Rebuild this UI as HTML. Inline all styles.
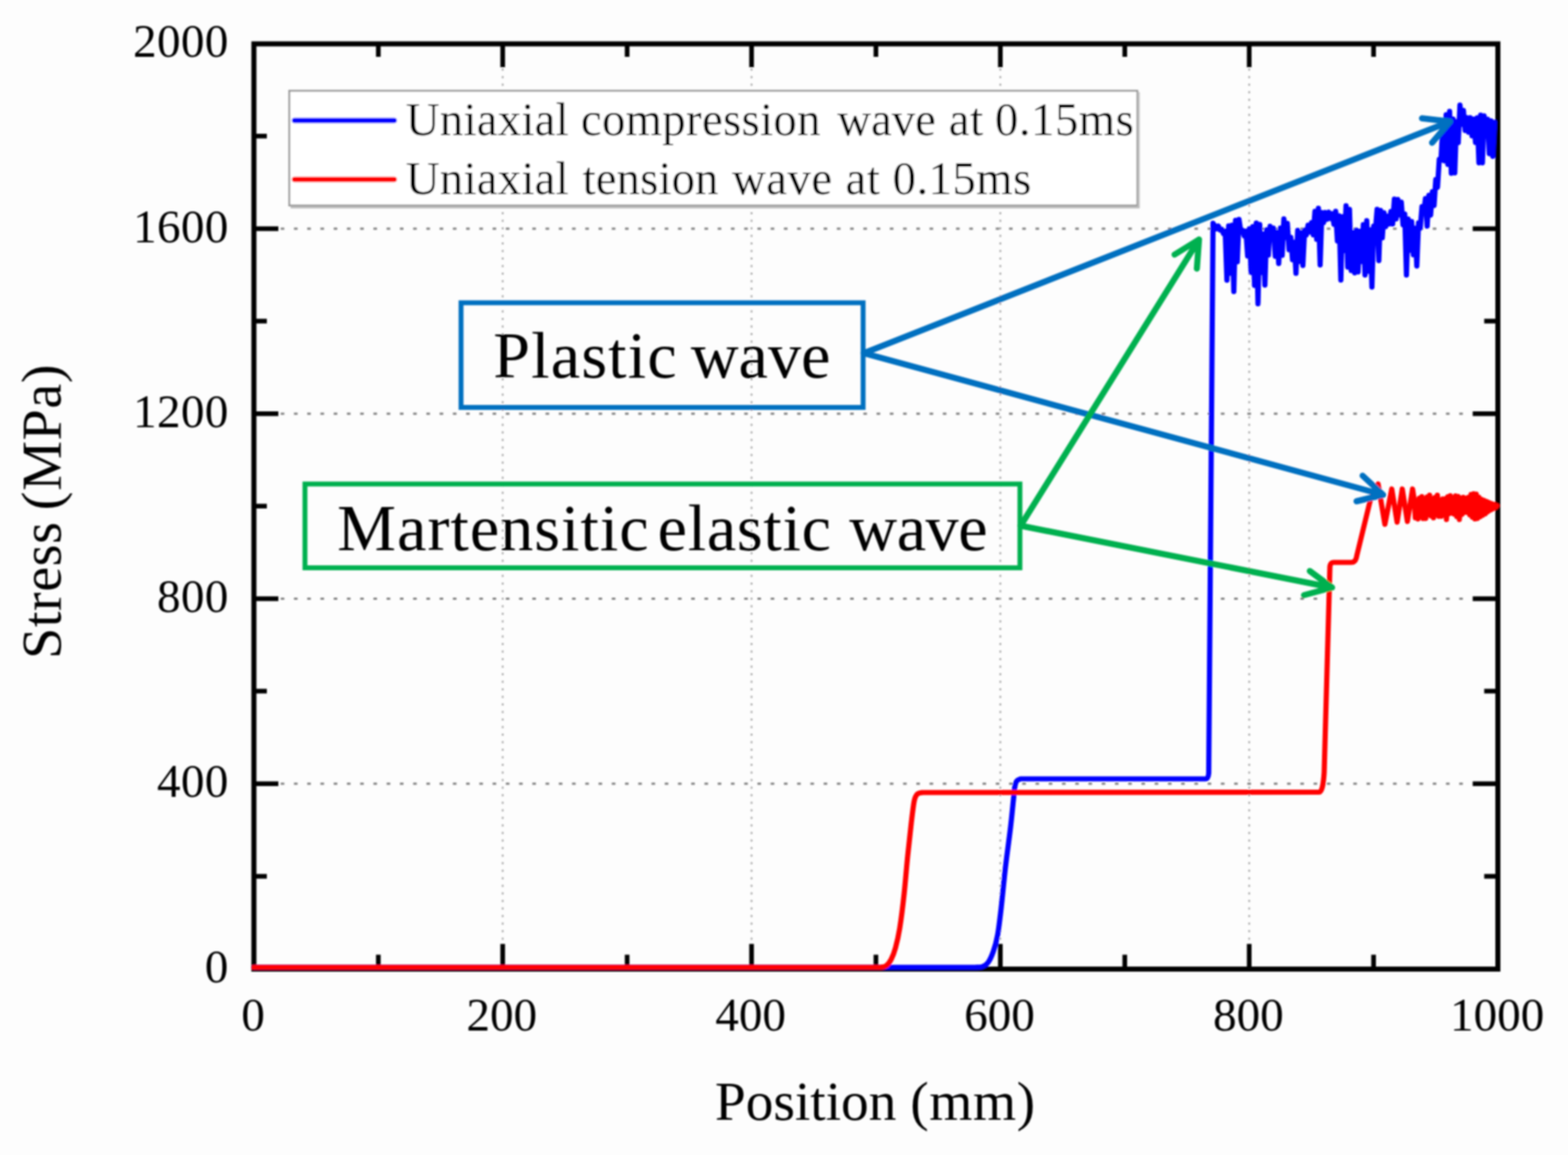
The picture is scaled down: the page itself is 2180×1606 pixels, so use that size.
<!DOCTYPE html>
<html><head><meta charset="utf-8"><title>Stress vs Position</title>
<style>html,body{margin:0;padding:0;background:#fdfdfd;overflow:hidden}svg{display:block}</style>
</head><body>
<svg width="2180" height="1606" viewBox="0 0 2180 1606" font-family="'Liberation Serif', 'Times New Roman', serif"><defs><filter id="soft" x="-1%" y="-1%" width="102%" height="102%"><feGaussianBlur stdDeviation="1.1"/></filter></defs><rect width="100%" height="100%" fill="#fdfdfd"/><g filter="url(#soft)"><g stroke="#808080" stroke-width="3" stroke-dasharray="5 13.41" fill="none"><line x1="390.3" y1="1089.7" x2="2046" y2="1089.7"/><line x1="390.3" y1="832.4" x2="2046" y2="832.4"/><line x1="390.3" y1="575.2" x2="2046" y2="575.2"/><line x1="390.3" y1="317.9" x2="2046" y2="317.9"/></g><g stroke="#acacac" stroke-width="2.5" stroke-dasharray="3 7.51" fill="none"><line x1="698.9" y1="95.2" x2="698.9" y2="1312"/><line x1="1044.9" y1="95.2" x2="1044.9" y2="1312"/><line x1="1390.8" y1="95.2" x2="1390.8" y2="1312"/><line x1="1736.8" y1="95.2" x2="1736.8" y2="1312"/></g><g stroke="#000" stroke-width="6.5" fill="none" stroke-linecap="butt"><rect x="353" y="61" width="1729.5" height="1286.5" fill="none" stroke-width="7"/><path d="M526 1347.5 V1327.5 M526 61 V79 M698.9 1347.5 V1312.5 M698.9 61 V93.5 M871.9 1347.5 V1327.5 M871.9 61 V79 M1044.9 1347.5 V1312.5 M1044.9 61 V93.5 M1217.8 1347.5 V1327.5 M1217.8 61 V79 M1390.8 1347.5 V1312.5 M1390.8 61 V93.5 M1563.8 1347.5 V1327.5 M1563.8 61 V79 M1736.8 1347.5 V1312.5 M1736.8 61 V93.5 M1909.7 1347.5 V1327.5 M1909.7 61 V79 M353 1218.4 H371 M2082.5 1218.4 H2063.5 M353 1089.7 H387 M2082.5 1089.7 H2047.5 M353 961.1 H371 M2082.5 961.1 H2063.5 M353 832.4 H387 M2082.5 832.4 H2047.5 M353 703.8 H371 M2082.5 703.8 H2063.5 M353 575.2 H387 M2082.5 575.2 H2047.5 M353 446.5 H371 M2082.5 446.5 H2063.5 M353 317.9 H387 M2082.5 317.9 H2047.5 M353 189.2 H371 M2082.5 189.2 H2063.5"/></g><path d="M353 1345 L1356 1345  C1357.7 1344.8 1363 1345.2 1366 1344 C1369 1342.8 1371.5 1341.5 1374 1338 C1376.5 1334.5 1378.8 1329.3 1381 1323 C1383.2 1316.7 1385.2 1310.2 1387 1300 C1388.8 1289.8 1390.2 1277.8 1392 1262 C1393.8 1246.2 1395.8 1223.7 1398 1205 C1400.2 1186.3 1403.2 1165.5 1405 1150 C1406.8 1134.5 1408 1121.2 1409 1112 C1410 1102.8 1410 1099.3 1410.8 1095 C1411.5 1090.7 1412.1 1088 1413.5 1086 C1414.9 1084 1418.1 1083.5 1419 1083 L1676 1083 C1679 1083 1680 1081 1680.5 1075 L1686.5 310.3 L1691.4 318.1 L1693.8 314.2 L1696.2 319.9 L1698.6 319 L1701 324.9 L1703.4 321.5 L1705.8 389.7 L1708.2 314 L1710.6 380 L1713 313 L1715.4 405.4 L1717.8 306.3 L1720.2 364 L1722.6 305.2 L1725 321 L1727.4 320.1 L1729.8 328 L1732.2 321.4 L1734.6 356 L1737 318.1 L1739.4 378.9 L1741.8 315.1 L1744.2 396.9 L1746.6 310.1 L1749 422.4 L1751.4 312.1 L1753.8 378.9 L1756.2 325.5 L1758.6 396.5 L1761 319.6 L1763.4 354.7 L1765.8 314.6 L1768.2 323.7 L1770.6 317.2 L1773 356.4 L1775.4 323.3 L1777.8 366.4 L1780.2 317.2 L1782.6 355 L1785 304.3 L1787.4 330.2 L1789.8 310.5 L1792.2 347.2 L1794.6 330.1 L1797 361.1 L1799.4 336.8 L1801.8 380 L1804.2 320.4 L1806.6 363.6 L1809 323.7 L1811.4 369.1 L1813.8 320.1 L1816.2 326.9 L1818.6 313.1 L1821 322.6 L1823.4 309.7 L1825.8 326.5 L1828.2 293.8 L1830.6 332.7 L1833 289.5 L1835.4 368.4 L1837.8 295.5 L1840.2 309.7 L1842.6 295.5 L1845 304.9 L1847.4 295 L1849.8 303.9 L1852.2 297.2 L1854.6 311.8 L1857 293.9 L1859.4 335.1 L1861.8 300.2 L1864.2 389.3 L1866.6 301.3 L1869 348.5 L1871.4 286.2 L1873.8 371.4 L1876.2 291.1 L1878.6 376.2 L1881 323.7 L1883.4 379.4 L1885.8 320.1 L1888.2 378.2 L1890.6 321.5 L1893 363.7 L1895.4 312.4 L1897.8 382.4 L1900.2 306.9 L1902.6 377.1 L1905 319.5 L1907.4 399.1 L1909.8 314.4 L1912.2 320.6 L1914.6 291.1 L1917 362.4 L1919.4 292.6 L1921.8 330.7 L1924.2 295.8 L1926.6 315.2 L1929 300.7 L1931.4 311.4 L1933.8 294.1 L1936.2 311.4 L1938.6 276.9 L1941 304.5 L1943.4 277.4 L1945.8 298.9 L1948.2 281 L1950.6 312.6 L1953 297.6 L1955.4 382.3 L1957.8 304.7 L1960.2 348 L1962.6 308.2 L1965 354.2 L1967.4 317.3 L1969.8 369.9 L1972.2 309.8 L1974.6 317.4 L1977 287.4 L1979.4 296.5 L1981.8 276.2 L1984.2 314.4 L1986.6 271.5 L1989 299.1 L1991.4 266.7 L1993.8 285.8 L1996.2 249.6 L1998.6 260.4 L2001 221.6 L2003.4 222.8 L2005.8 178.9 L2008.2 223.6 L2010.6 159.5 L2013 228.6 L2015.4 154.8 L2017.8 241 L2020.2 165.6 L2022.6 240.4 L2025 169.4 L2027.4 198.4 L2029.8 146 L2032.2 172.9 L2034.6 153.6 L2037 181.4 L2039.4 163.5 L2041.8 183.8 L2044.2 163.7 L2046.6 188.9 L2049 165.5 L2051.4 198.1 L2053.8 163.9 L2056.2 226.4 L2058.6 160.2 L2061 226.4 L2063.4 161.2 L2065.8 188.8 L2068.2 165.9 L2070.6 213.6 L2073 168.2 L2075.4 217.4 L2077.8 170.2" stroke="#0000ff" stroke-width="7.2" fill="none" stroke-linejoin="round" stroke-linecap="round"/><path d="M353 1345 L1224 1345  C1225.3 1344.7 1229.5 1344.8 1232 1343 C1234.5 1341.2 1236.8 1338.2 1239 1334 C1241.2 1329.8 1243 1325.3 1245 1318 C1247 1310.7 1249 1302.5 1251 1290 C1253 1277.5 1255.2 1259.7 1257 1243 C1258.8 1226.3 1260.3 1206.5 1262 1190 C1263.7 1173.5 1265.5 1156.7 1267 1144 C1268.5 1131.3 1269.7 1120.6 1271 1114 C1272.3 1107.4 1273.2 1106.5 1275 1104.5 C1276.8 1102.5 1280.8 1102.4 1282 1102 L1834 1101.5 C1838 1101.5 1840 1090 1841 1074 L1849 788 C1849.5 783.5 1851 782 1854 782 L1879 782 C1883 782 1885.5 779 1886.5 772 L1905 696 L1909 686 L1916 673 L1925.4 729 L1935 680 L1942.4 726 L1949.6 680 L1956.7 725 L1963.9 680 L1966 693.6 L1967.8 720 L1969.6 698.1 L1971.4 721.6 L1973.2 692.8 L1975 714.4 L1976.8 690.6 L1978.6 721 L1980.4 695.1 L1982.2 720.9 L1984 691 L1985.8 715.3 L1987.6 688.6 L1989.4 717.2 L1991.2 694.3 L1993 719.9 L1994.8 691.9 L1996.6 714.5 L1998.4 688.5 L2000.2 717.9 L2002 696.6 L2003.8 717.9 L2005.6 693.9 L2007.4 715.2 L2009.2 693.6 L2011 722.4 L2012.8 690.9 L2014.6 714.3 L2016.4 689.3 L2018.2 713.4 L2020 693.6 L2021.8 715 L2023.6 689.7 L2025.4 718.2 L2027.2 690.4 L2029 722.4 L2030.8 692.9 L2032.6 715.2 L2034.4 691.7 L2036.2 712.4 L2038 692.9 L2039.8 712.4 L2041.6 691.7 L2043.4 715.8 L2045.2 687.5 L2047 719.1 L2048.8 686.6 L2050.6 721.5 L2052.4 687.1 L2054.2 720.9 L2056 691.3 L2057.8 718.5 L2059.6 694.3 L2061.4 716.5 L2063.2 695.8 L2065 714.4 L2066.8 697.4 L2068.6 711.8 L2070.4 698.9 L2072.2 709.3 L2074 700.3 L2075.8 707.5 L2077.6 701.5 L2079.4 705.3 L2081.2 703.2" stroke="#ff0000" stroke-width="7.2" fill="none" stroke-linejoin="round" stroke-linecap="round"/><g font-size="65.5" fill="#000"><text x="351.8" y="1432.5" text-anchor="middle">0</text><text x="697.7" y="1432.5" text-anchor="middle">200</text><text x="1043.7" y="1432.5" text-anchor="middle">400</text><text x="1389.6" y="1432.5" text-anchor="middle">600</text><text x="1735.6" y="1432.5" text-anchor="middle">800</text><text x="2081.5" y="1432.5" text-anchor="middle">1000</text><text x="318" y="1365.7" text-anchor="end" letter-spacing="0.5">0</text><text x="318" y="1108.4" text-anchor="end" letter-spacing="0.5">400</text><text x="318" y="851.1" text-anchor="end" letter-spacing="0.5">800</text><text x="318" y="593.9" text-anchor="end" letter-spacing="0.5">1200</text><text x="318" y="336.6" text-anchor="end" letter-spacing="0.5">1600</text><text x="318" y="79.3" text-anchor="end" letter-spacing="0.5">2000</text></g><text y="1557" font-size="77" fill="#000"><tspan x="993.9">Position</tspan><tspan x="1265.4" letter-spacing="0.9">(mm)</tspan></text><text transform="rotate(-90)" y="83.5" font-size="78" fill="#000"><tspan x="-916.3" letter-spacing="0.8">Stress</tspan><tspan x="-709.4" letter-spacing="0.8">(MPa)</tspan></text><rect x="402.2" y="126.2" width="1179" height="159.5" fill="#fff" stroke="#999" stroke-width="2.6"/><path d="M1583 128 V288.2 H404" stroke="#bdbdbd" stroke-width="3" fill="none"/><line x1="409.5" y1="167.5" x2="548" y2="167.5" stroke="#0000ff" stroke-width="7.5" stroke-linecap="round"/><line x1="409.5" y1="249.5" x2="548" y2="249.5" stroke="#ff0000" stroke-width="7.5" stroke-linecap="round"/><text y="188" font-size="65" fill="#000"><tspan x="564.3" letter-spacing="0.35">Uniaxial</tspan><tspan x="807.6" letter-spacing="0.45">compression</tspan><tspan x="1164">wave</tspan><tspan x="1318.9" letter-spacing="0.9">at</tspan><tspan x="1383.3" letter-spacing="0.7">0.15ms</tspan></text><text y="270" font-size="65" fill="#000"><tspan x="564.3" letter-spacing="0.35">Uniaxial</tspan><tspan x="809.9" letter-spacing="0.2">tension</tspan><tspan x="1017.8" letter-spacing="0.6">wave</tspan><tspan x="1175.4" letter-spacing="0.9">at</tspan><tspan x="1241.1" letter-spacing="0.6">0.15ms</tspan></text><rect x="641" y="421" width="559" height="145.5" fill="none" stroke="#0070c0" stroke-width="6.8"/><text y="525" font-size="92" fill="#000"><tspan x="685.8" letter-spacing="1.6">Plastic</tspan><tspan x="960.4">wave</tspan></text><rect x="424" y="673" width="994" height="116.5" fill="none" stroke="#00b050" stroke-width="6.8"/><text y="764.5" font-size="92" fill="#000"><tspan x="468.8" letter-spacing="1.4">Martensitic</tspan><tspan x="914.3" letter-spacing="1.0">elastic</tspan><tspan x="1180.8" letter-spacing="-0.6">wave</tspan></text><path d="M1201 491 L2016 169 M1977 164.5 L2016 169 L1991 198.5" stroke="#0070c0" stroke-width="8.5" fill="none" stroke-linecap="round" stroke-linejoin="round"/><path d="M1201 491 L1923 688 M1894.5 661.5 L1923 688 L1886 697" stroke="#0070c0" stroke-width="8.5" fill="none" stroke-linecap="round" stroke-linejoin="round"/><path d="M1419 731 L1667 333 M1633 354 L1667 333 L1664 373.5" stroke="#00b050" stroke-width="8.5" fill="none" stroke-linecap="round" stroke-linejoin="round"/><path d="M1419 731 L1852 817 M1821 794 L1852 817 L1813 827.5" stroke="#00b050" stroke-width="8.5" fill="none" stroke-linecap="round" stroke-linejoin="round"/></g></svg>
</body></html>
